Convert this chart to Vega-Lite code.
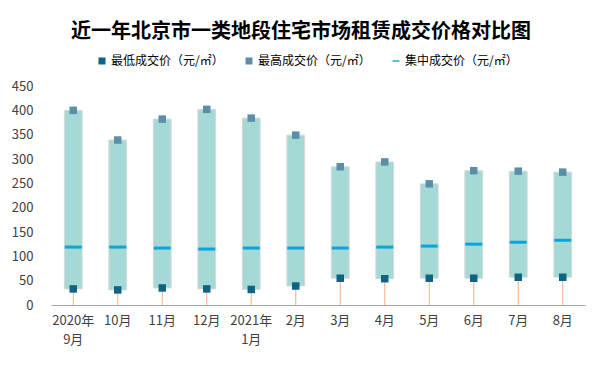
{
  "$schema": "https://vega.github.io/schema/vega-lite/v6.json",
  "width": 534,
  "height": 219,
  "autosize": {"type": "none"},
  "padding": {"left": 51, "top": 86, "right": 17, "bottom": 63},
  "background": "white",
  "config": {
    "view": {"stroke": null},
    "font": "Noto Sans CJK SC",
    "legend": {
      "orient": "none",
      "legendX": 45,
      "legendY": -31,
      "direction": "horizontal",
      "symbolSize": 49,
      "labelFontSize": 12,
      "labelFont": "Noto Sans CJK SC",
      "columnPadding": 19,
      "gridAlign": "all",
      "labelOffset": 3,
      "symbolStrokeWidth": 0,
      "labelColor": "#000000",
      "padding": 0
    }
  },
  "title": {
    "text": "近一年北京市一类地段住宅市场租赁成交价格对比图",
    "font": "Noto Sans CJK SC",
    "fontSize": 20,
    "fontWeight": "bold",
    "color": "#000000",
    "anchor": "middle",
    "dx": -17,
    "offset": 13
  },
  "data": {
    "values": [
      {"month": "2020年|9月", "low": 33, "high": 400, "mid": 119},
      {"month": "10月", "low": 31, "high": 339, "mid": 119},
      {"month": "11月", "low": 35, "high": 382, "mid": 117},
      {"month": "12月", "low": 33, "high": 402, "mid": 115},
      {"month": "2021年|1月", "low": 32, "high": 384, "mid": 117},
      {"month": "2月", "low": 39, "high": 349, "mid": 117},
      {"month": "3月", "low": 55, "high": 284, "mid": 117},
      {"month": "4月", "low": 54, "high": 294, "mid": 119},
      {"month": "5月", "low": 55, "high": 249, "mid": 121},
      {"month": "6月", "low": 55, "high": 276, "mid": 125},
      {"month": "7月", "low": 57, "high": 275, "mid": 129},
      {"month": "8月", "low": 57, "high": 273, "mid": 133}
    ]
  },
  "encoding": {
    "x": {
      "field": "month",
      "type": "ordinal",
      "sort": null,
      "scale": {"paddingInner": 0, "paddingOuter": 0},
      "axis": {
        "title": null,
        "labelAngle": 0,
        "domainColor": "#A6A6A6",
        "domainWidth": 1,
        "ticks": false,
        "labelPadding": 9,
        "labelFontSize": 13,
        "labelColor": "#404040",
        "labelExpr": "split(datum.label, '|')",
        "labelLineHeight": 19,
        "labelBaseline": "top"
      }
    },
    "y": {
      "field": "low",
      "type": "quantitative",
      "scale": {"domain": [0, 450], "nice": false},
      "axis": {
        "title": null,
        "domain": false,
        "ticks": false,
        "grid": false,
        "values": [0, 50, 100, 150, 200, 250, 300, 350, 400, 450],
        "labelOverlap": false,
        "labelPadding": 18,
        "labelFontSize": 13,
        "labelColor": "#404040"
      }
    }
  },
  "layer": [
    {
      "mark": {"type": "bar", "color": "#A5D9D6", "stroke": "#D9D9D9", "strokeWidth": 1, "width": {"band": 0.4}},
      "encoding": {
        "y2": {"field": "high"}
      }
    },
    {
      "mark": {"type": "rule", "color": "#F4B183", "strokeWidth": 1},
      "encoding": {
        "y2": {"datum": 0}
      }
    },
    {
      "transform": [{"fold": ["mid"], "as": ["key", "price"]}],
      "mark": {"type": "tick", "thickness": 3, "size": 17, "opacity": 1},
      "encoding": {
        "y": {"field": "price", "type": "quantitative"},
        "color": {
          "field": "key",
          "type": "nominal",
          "scale": {
            "domain": ["low", "high", "mid"],
            "range": ["#0F6383", "#5B8FA8", "#0AA5DA"]
          },
          "legend": {"title": null, "labelExpr": "datum.value == 'low' ? '最低成交价（元/㎡）' : datum.value == 'high' ? '最高成交价（元/㎡）' : '集中成交价（元/㎡）'"}
        }
      }
    },
    {
      "transform": [{"fold": ["low", "high"], "as": ["key", "price"]}],
      "mark": {"type": "point", "filled": true, "size": 56, "opacity": 1},
      "encoding": {
        "y": {"field": "price", "type": "quantitative"},
        "color": {
          "field": "key",
          "type": "nominal",
          "scale": {
            "domain": ["low", "high", "mid"],
            "range": ["#0F6383", "#5B8FA8", "#0AA5DA"]
          },
          "legend": {"title": null, "labelExpr": "datum.value == 'low' ? '最低成交价（元/㎡）' : datum.value == 'high' ? '最高成交价（元/㎡）' : '集中成交价（元/㎡）'"}
        },
        "shape": {
          "field": "key",
          "type": "nominal",
          "scale": {
            "domain": ["low", "high", "mid"],
            "range": ["square", "square", "M-1,-0.2L1,-0.2L1,0.2L-1,0.2Z"]
          },
          "legend": {"title": null, "labelExpr": "datum.value == 'low' ? '最低成交价（元/㎡）' : datum.value == 'high' ? '最高成交价（元/㎡）' : '集中成交价（元/㎡）'"}
        }
      }
    }
  ]
}
